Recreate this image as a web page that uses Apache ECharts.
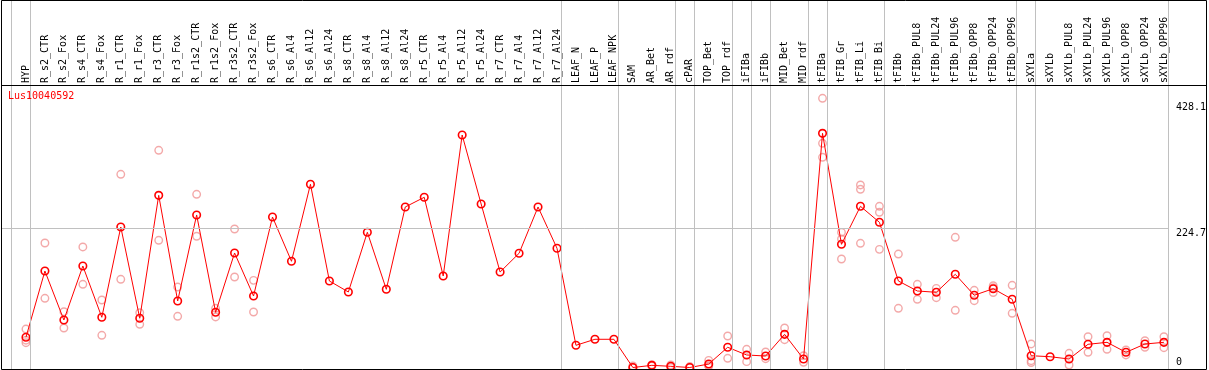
<!DOCTYPE html>
<html>
<head>
<meta charset="utf-8">
<script src="https://cdn.jsdelivr.net/npm/echarts@6/dist/echarts.min.js"></script>
<style>
  html, body { margin: 0; padding: 0; background: #fff; }
  #chart { width: 1209px; height: 370px; }
</style>
</head>
<body>
<div id="chart"></div>
<script>
const categories = ["HYP","R_s2_CTR","R_s2_Fox","R_s4_CTR","R_s4_Fox","R_r1_CTR","R_r1_Fox","R_r3_CTR","R_r3_Fox","R_r1s2_CTR","R_r1s2_Fox","R_r3s2_CTR","R_r3s2_Fox","R_s6_CTR","R_s6_Al4","R_s6_Al12","R_s6_Al24","R_s8_CTR","R_s8_Al4","R_s8_Al12","R_s8_Al24","R_r5_CTR","R_r5_Al4","R_r5_Al12","R_r5_Al24","R_r7_CTR","R_r7_Al4","R_r7_Al12","R_r7_Al24","LEAF_N","LEAF_P","LEAF_NPK","SAM","AR_Bet","AR_rdf","cPAR","TOP_Bet","TOP_rdf","iFIBa","iFIBb","MID_Bet","MID_rdf","tFIBa","tFIB_Gr","tFIB_Li","tFIB_Bi","tFIBb","tFIBb_PUL8","tFIBb_PUL24","tFIBb_PUL96","tFIBb_OPP8","tFIBb_OPP24","tFIBb_OPP96","sXYLa","sXYLb","sXYLb_PUL8","sXYLb_PUL24","sXYLb_PUL96","sXYLb_OPP8","sXYLb_OPP24","sXYLb_OPP96"];

const meanValues = [48.7,155.6,76.6,163.7,81,226.6,79.4,277.7,107.3,246,89,184.7,115.3,
  242.7,171.3,295.5,139.5,121.8,218.1,126.1,258.9,274.5,147.6,375,263.7,154,184.2,258.9,192.3,
  35.8,45.5,45.5,
  0,3.5,1.9,0,5.6,32.6,20.2,18.5,53.5,13.7,
  377.7,198.7,260,234.2,139.5,123.4,121.3,150.3,116.5,127.1,110,
  19,17.4,13.7,37.4,40.6,24.5,37.9,40.6];

const replicateValues = [[62,44,40],[200.8,111.6],[90,63.7],[194.4,134.2],[108.9,51.9],[311.6,142.3],[88.4,69.7],[350.3,205.2],[129.8,82.6],[279.4,211.6],[95.5,81.5],[223.4,146],[140.6,89.5],
  [],[],[],[],[],[],[],[],[],[],[],[],[],[],[],[],
  [],[],[],
  [2.4,0],[4.5,2.5],[4,0],[1.5,0],[11.5,2.5,2.8],[50.8,14.8],[29.4,9.4],[25,14.2],[63.7,44.8],[19,8.4],
  [434.2,361.6,339],[218,207.3,175],[294.4,287.4,200.3],[260,250.3,190.6],[183,95.5],[134.2,110],[127.7,112.6],[210,92.3],[124.5,107.7],[131.9,128.7,121],[132.6,87.4],
  [38,8,11],[],[22.9,4],[49.7,24.5],[51.3,29.4],[28.2,20.2],[43.2,32.6],[49.7,31.9]];

const yTickLabels = [0, 224.7, 428.1];
const gridLineValue = 224.7;
const groupEnds = [-1, 0, 28, 31, 34, 35, 37, 38, 39, 41, 42, 45, 52, 53, 60];
const seriesName = "Lus10040592";

// layout
const SLOT = 19;
const GRID_LEFT = 1, GRID_RIGHT = 38, GRID_TOP = 0, GRID_BOTTOM = 1;
const W = 1209, H = 370;
const plotW = W - GRID_LEFT - GRID_RIGHT;
const xMin = -(26 - GRID_LEFT) / SLOT;
const xMax = xMin + plotW / SLOT;
const SEP_OFFSET = 4.5 / SLOT;
const yScale = 0.62;
const zeroPx = 367.5;
const plotH = H - GRID_TOP - GRID_BOTTOM;
const yMin = -(H - GRID_BOTTOM - zeroPx) / yScale;
const yMax = yMin + plotH / yScale;

const MONO = "DejaVu Sans Mono";

const meanData = meanValues.map((v, i) => [i, v]);
const repData = [];
replicateValues.forEach((arr, i) => arr.forEach(v => repData.push([i, v])));

const chart = echarts.init(document.getElementById('chart'), null, { renderer: 'canvas' });
chart.setOption({
  animation: false,
  backgroundColor: '#fff',
  title: {
    text: seriesName, left: 8, top: 91, padding: 0,
    textStyle: { color: '#ff0000', fontSize: 10, fontWeight: 'normal', fontFamily: MONO }
  },
  grid: { left: GRID_LEFT, right: GRID_RIGHT, top: GRID_TOP, bottom: GRID_BOTTOM, containLabel: false },
  xAxis: {
    type: 'value', position: 'top', offset: -85,
    min: xMin, max: xMax,
    axisLine: { show: false }, axisTick: { show: false }, splitLine: { show: false },
    axisLabel: {
      customValues: categories.map((_, i) => i),
      formatter: v => categories[Math.round(v)] || '',
      rotate: 90, margin: 2, fontSize: 10, fontFamily: MONO, color: '#000'
    }
  },
  yAxis: [
    {
      type: 'value', position: 'right', min: yMin, max: yMax,
      axisLine: { show: false }, axisTick: { show: false }, splitLine: { show: false },
      axisLabel: {
        customValues: yTickLabels.filter(v => v !== 0),
        formatter: v => String(v),
        verticalAlign: 'top', lineHeight: 10, margin: 7,
        fontSize: 10, fontFamily: MONO, color: '#000'
      }
    },
    {
      type: 'value', position: 'right', min: yMin, max: yMax,
      axisLine: { show: false }, axisTick: { show: false }, splitLine: { show: false },
      axisLabel: {
        customValues: yTickLabels.filter(v => v === 0),
        formatter: v => String(v),
        verticalAlign: 'bottom', lineHeight: 10, margin: 7,
        fontSize: 10, fontFamily: MONO, color: '#000'
      }
    }
  ],
  series: [
    {
      name: 'replicates', type: 'scatter', data: repData,
      symbol: 'circle', symbolSize: 7.5,
      itemStyle: { color: 'rgba(0,0,0,0)', borderColor: '#f09494', borderWidth: 1.4 },
      z: 2, silent: true,
      markLine: {
        silent: true, symbol: 'none', animation: false,
        label: { show: false },
        lineStyle: { color: '#c0c0c0', width: 1, type: 'solid' },
        data: groupEnds.map(i => ({ xAxis: i + SEP_OFFSET })).concat([{ yAxis: gridLineValue }])
      }
    },
    {
      name: 'mean', type: 'line', data: meanData,
      symbol: 'circle', symbolSize: 7.5, showAllSymbol: true,
      lineStyle: { color: '#ff0000', width: 1 },
      itemStyle: { color: 'rgba(0,0,0,0)', borderColor: '#ff0000', borderWidth: 1.6 },
      z: 3, silent: true
    }
  ],
  graphic: [
    { type: 'rect', silent: true, z: 100,
      shape: { x: 1.5, y: 0.5, width: 1205, height: 369 },
      style: { fill: null, stroke: '#000', lineWidth: 1 } },
    { type: 'line', silent: true, z: 100,
      shape: { x1: 1, y1: 85.5, x2: 1207, y2: 85.5 },
      style: { stroke: '#000', lineWidth: 1 } }
  ]
});
</script>
</body>
</html>
